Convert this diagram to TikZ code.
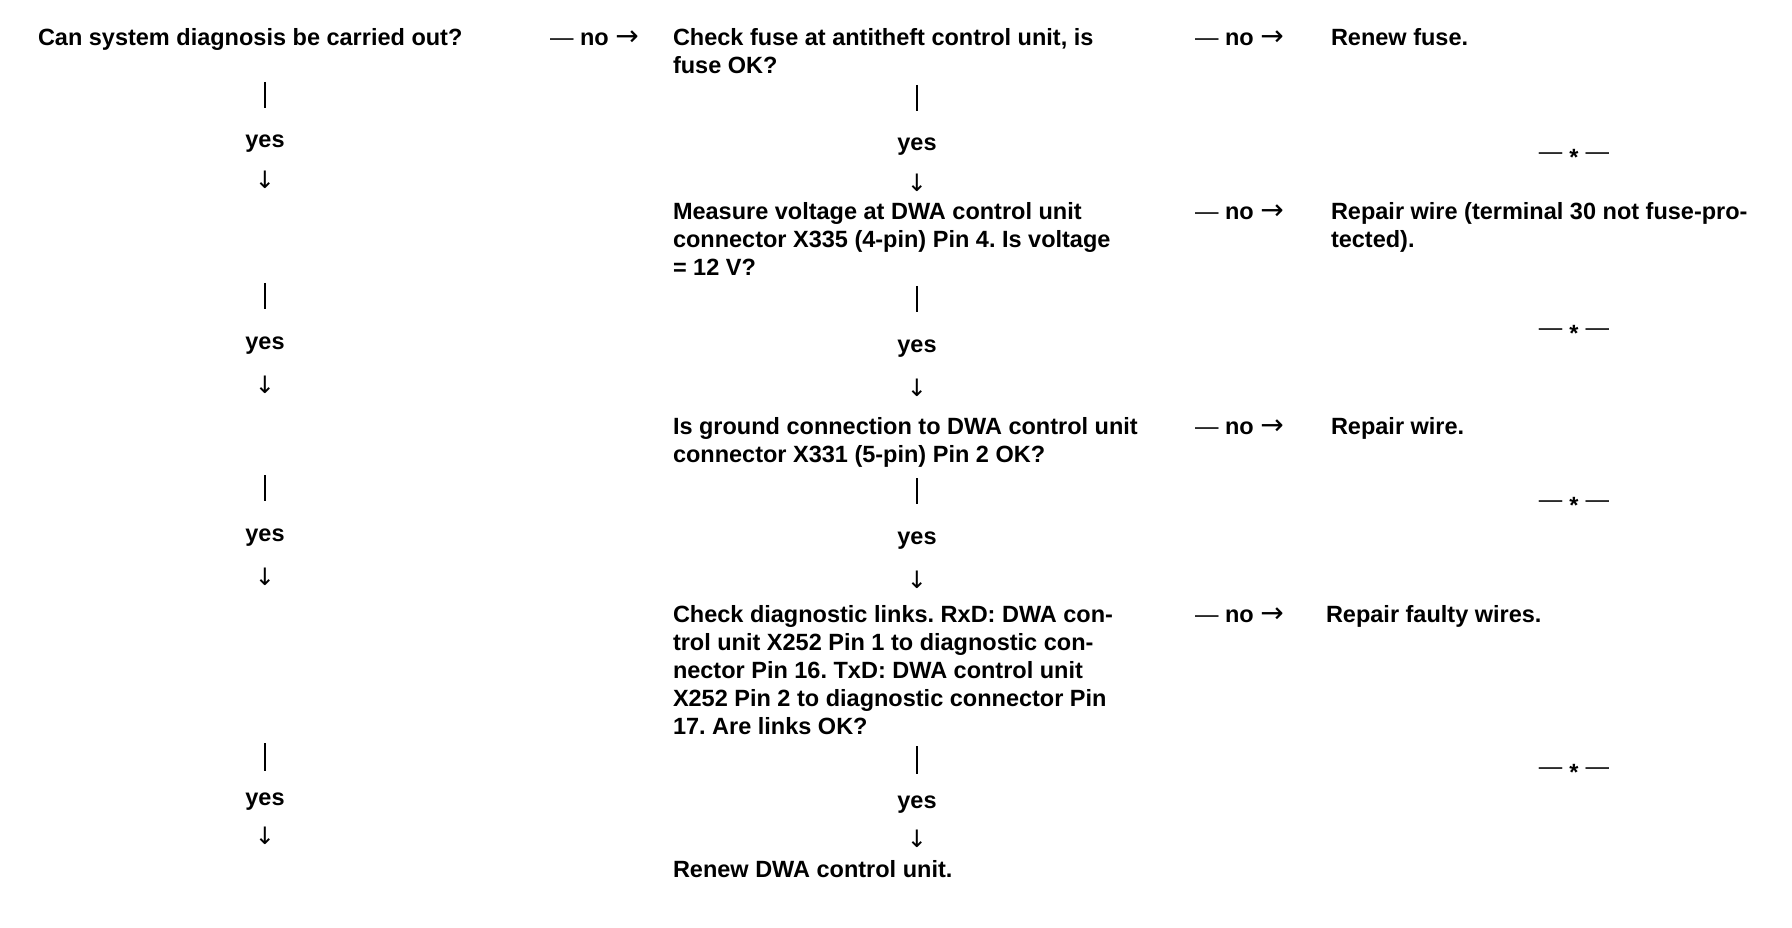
\documentclass[tikz,border=0pt]{standalone}
\usepackage{fontspec}
\setmainfont{Liberation Sans}
\newfontfamily\arrowfont{DejaVu Sans}
\frenchspacing
\newcommand\blines[1]{\begin{tabular}[t]{@{}l@{}}#1\end{tabular}}
\newcommand\nolinktext{{\mdseries —} no {\fontsize{28}{28}\selectfont\arrowfont\mdseries →}}
\newcommand\stopmarktext{{\mdseries —}\hspace{0.3em}\raisebox{-0.24em}{*}\hspace{0.3em}{\mdseries —}}
\begin{document}
\begin{tikzpicture}[x=1pt,y=-1pt,
  every node/.style={inner sep=0pt, outer sep=0pt, font=\fontsize{23.5}{28}\selectfont\bfseries},
  txt/.style={anchor=base west},
  nolink/.style={anchor=base west},
  yeslbl/.style={anchor=base},
  downarr/.style={anchor=base, font=\fontsize{24}{28}\selectfont\arrowfont},
  starsep/.style={anchor=base},
  bar/.style={line width=2.2pt}]
\useasboundingbox (0,0) rectangle (1792,928);

% left column
\node[txt] (q0) at (38,46) {Can system diagnosis be carried out?};

% middle column
\node[txt] (q1) at (673,46) {\blines{Check fuse at antitheft control unit, is\\fuse OK?}};
\node[txt] (q2) at (673,220) {\blines{Measure voltage at DWA control unit\\connector X335 (4-pin) Pin 4. Is voltage\\= 12 V?}};
\node[txt] (q3) at (673,434) {\blines{Is ground connection to DWA control unit\\connector X331 (5-pin) Pin 2 OK?}};
\node[txt] (q4) at (673,622) {\blines{Check diagnostic links. RxD: DWA con-\\trol unit X252 Pin 1 to diagnostic con-\\nector Pin 16. TxD: DWA control unit\\X252 Pin 2 to diagnostic connector Pin\\17. Are links OK?}};
\node[txt] (q5) at (673,877) {Renew DWA control unit.};

% right column
\node[txt] (r1) at (1331,46) {Renew fuse.};
\node[txt] (r2) at (1331,220) {\blines{Repair wire (terminal 30 not fuse-pro-\\tected).}};
\node[txt] (r3) at (1331,434) {Repair wire.};
\node[txt] (r4) at (1326,622) {Repair faulty wires.};

% no links
\node[nolink] (n0) at (550,46) {\nolinktext};
\node[nolink] (n1) at (1195,46) {\nolinktext};
\node[nolink] (n2) at (1195,220) {\nolinktext};
\node[nolink] (n3) at (1195,434) {\nolinktext};
\node[nolink] (n4) at (1195,622) {\nolinktext};

% end marks
\node[starsep] (s1) at (1574,159.5) {\stopmarktext};
\node[starsep] (s2) at (1574,335.5) {\stopmarktext};
\node[starsep] (s3) at (1574,507.5) {\stopmarktext};
\node[starsep] (s4) at (1574,774.5) {\stopmarktext};

% yes connectors, left
\coordinate (lb1a) at (265,82);  \coordinate (lb1b) at (265,108);
\coordinate (lb2a) at (265,283); \coordinate (lb2b) at (265,309);
\coordinate (lb3a) at (265,475); \coordinate (lb3b) at (265,501);
\coordinate (lb4a) at (265,743); \coordinate (lb4b) at (265,771);
\draw[bar] (lb1a) -- (lb1b);
\draw[bar] (lb2a) -- (lb2b);
\draw[bar] (lb3a) -- (lb3b);
\draw[bar] (lb4a) -- (lb4b);
\node[yeslbl] (ly1) at (265,148) {yes};
\node[yeslbl] (ly2) at (265,349) {yes};
\node[yeslbl] (ly3) at (265,541) {yes};
\node[yeslbl] (ly4) at (265,805) {yes};
\node[downarr] (la1) at (265,189) {↓};
\node[downarr] (la2) at (265,393) {↓};
\node[downarr] (la3) at (265,585) {↓};
\node[downarr] (la4) at (265,844) {↓};

% yes connectors, middle
\coordinate (mb1a) at (917,85);  \coordinate (mb1b) at (917,111);
\coordinate (mb2a) at (917,286); \coordinate (mb2b) at (917,312);
\coordinate (mb3a) at (917,478); \coordinate (mb3b) at (917,504);
\coordinate (mb4a) at (917,746); \coordinate (mb4b) at (917,774);
\draw[bar] (mb1a) -- (mb1b);
\draw[bar] (mb2a) -- (mb2b);
\draw[bar] (mb3a) -- (mb3b);
\draw[bar] (mb4a) -- (mb4b);
\node[yeslbl] (my1) at (917,151) {yes};
\node[yeslbl] (my2) at (917,352) {yes};
\node[yeslbl] (my3) at (917,544) {yes};
\node[yeslbl] (my4) at (917,808) {yes};
\node[downarr] (ma1) at (917,192) {↓};
\node[downarr] (ma2) at (917,396) {↓};
\node[downarr] (ma3) at (917,588) {↓};
\node[downarr] (ma4) at (917,847) {↓};
\end{tikzpicture}
\end{document}
